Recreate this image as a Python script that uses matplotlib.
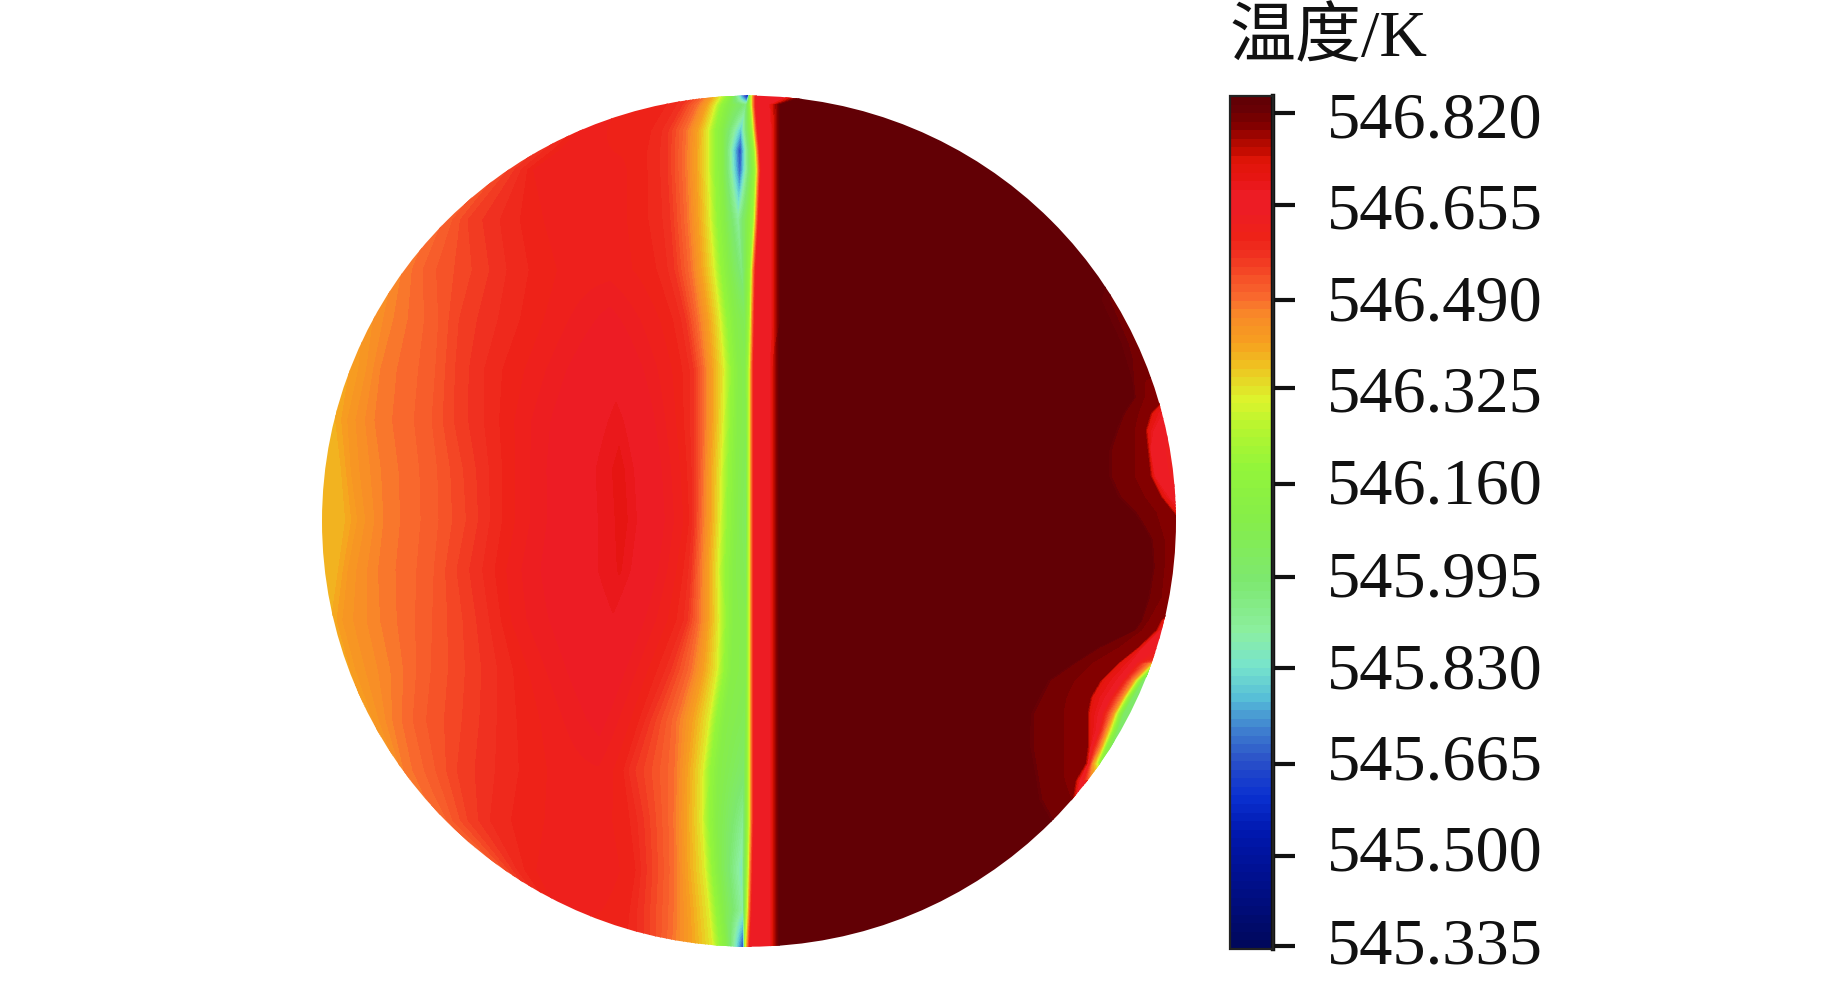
import matplotlib

matplotlib.use("Agg")
import matplotlib.pyplot as plt
import numpy as np
from matplotlib.colors import LinearSegmentedColormap
from matplotlib.patches import Ellipse
from matplotlib.transforms import ScaledTranslation

# colour scale
CMAP_T = [545.33, 545.45, 545.54, 545.60, 545.665, 545.72, 545.775, 545.835, 545.895, 545.985,
          546.10, 546.19, 546.255, 546.31, 546.37, 546.41, 546.46, 546.49, 546.535, 546.57,
          546.60, 546.645, 546.68, 546.70, 546.735, 546.755, 546.775, 546.79, 546.81, 546.825, 546.85]
CMAP_C = ["#00085a", "#000f8c", "#0018b0", "#0a30d0", "#2a50c8", "#3f80cf", "#55bcd8", "#78e4cc", "#8cefa0", "#7de870",
          "#86ee48", "#93f53a", "#b5f530", "#dcf42c", "#f0c020", "#f6a01f", "#f98a28", "#f96a2e", "#f54a26", "#f03020",
          "#ee2218", "#ed1c24", "#ed1c24", "#e81515", "#e01508", "#c00a00", "#a80800", "#8b0000", "#7a0000", "#6a0005", "#600005"]
TICK_LABELS = ["546.820", "546.655", "546.490", "546.325", "546.160", "545.995", "545.830", "545.665", "545.500", "545.335"]
# the ticks in the reference are not quite evenly spaced
TICK_POS = [546.820, 546.655, 546.486, 546.329, 546.158, 545.993, 545.831, 545.660, 545.495, 545.335]
LABEL_SHIFT = [-1.6, -0.6, 2.4, -0.6, 3.4, 3.4, 2.4, 7.4, 8.4, 5.4]

# isotherm positions across the disc, one value per row
ROW_Y = [95, 105, 130, 150, 170, 220, 270, 320, 370, 420, 470, 520, 570, 620, 670, 720, 770, 820, 870, 910, 950]
X_37 = [520, 500, 470, 440, 420, 370, 350, 338, 332, 330, 337, 340, 334, 326, 340, 360, 380, 430, 470, 500, 520]
X_41 = [540, 520, 490, 465, 440, 395, 380, 367, 362, 350, 353, 360, 350, 345, 358, 375, 395, 440, 480, 510, 530]
X_45 = [560, 540, 510, 490, 465, 425, 405, 397, 383, 378, 385, 387, 382, 385, 395, 395, 405, 430, 490, 520, 540]
X_49 = [580, 560, 530, 510, 490, 450, 430, 435, 432, 428, 433, 434, 430, 427, 425, 420, 432, 450, 500, 530, 550]
X_535 = [600, 580, 550, 530, 510, 470, 477, 462, 458, 457, 467, 470, 460, 467, 470, 467, 460, 470, 510, 540, 560]
X_57 = [615, 600, 570, 550, 525, 510, 517, 510, 493, 493, 497, 497, 490, 497, 507, 507, 507, 497, 520, 550, 570]
X_60 = [630, 615, 585, 565, 537, 557, 573, 557, 537, 523, 523, 523, 513, 517, 537, 553, 563, 563, 543, 560, 580]
PEAK_X = [640, 635, 625, 622, 620, 610, 610, 610, 612, 618, 620, 623, 620, 612, 605, 600, 598, 595, 595, 590, 585]
PEAK_T = [546.585, 546.59, 546.60, 546.605, 546.61, 546.615, 546.615, 546.645, 546.67, 546.69, 546.705, 546.705,
          546.70, 546.68, 546.665, 546.645, 546.62, 546.615, 546.62, 546.61, 546.59]
R_60 = [670, 660, 645, 640, 640, 640, 650, 668, 678, 680, 684, 687, 680, 672, 652, 635, 620, 625, 632, 625, 620]
R_57 = [690, 680, 666, 665, 665, 668, 672, 684, 692, 692, 693, 693, 690, 686, 668, 647, 630, 640, 643, 640, 640]
R_49 = [704, 696, 685, 684, 684, 686, 690, 697, 703, 703, 702, 701, 699, 698, 690, 675, 673, 672, 673, 672, 670]
R_41 = [712, 706, 697, 696, 696, 698, 701, 708, 712, 712, 710, 710, 708, 708, 703, 692, 687, 686, 687, 690, 692]
R_32 = [720, 714, 707, 707, 707, 709, 713, 719, 723, 722, 720, 719, 717, 718, 716, 708, 702, 701, 704, 708, 712]
R_20 = [726, 720, 714, 714, 714, 716, 720, 726, 730, 729, 727, 726, 724, 725, 723, 715, 709, 708, 711, 715, 719]
R_10 = [732, 727, 722, 722, 722, 724, 728, 734, 738, 737, 736, 735, 733, 733, 731, 724, 718, 716, 718, 722, 726]
VALLEY_X = [748, 746, 741, 740, 740, 738, 742, 745, 745, 746, 746, 746, 746, 746, 746, 745, 744, 743, 742, 743, 744]
VALLEY_T = [545.5, 545.95, 545.78, 545.65, 545.68, 545.9, 545.95, 546.05, 546.08, 546.08, 546.05, 546.03, 546.05,
            546.08, 546.08, 546.05, 546.0, 545.92, 545.85, 545.88, 545.6]
THIN_20 = [750, 750, 752, 754, 755, 753, 750, 749, 748, 748, 748, 748, 748, 748, 748, 748, 748, 748, 747, 746, 744]
THIN_32 = [752, 752, 754, 756, 757, 755, 752, 751, 750, 750, 750, 750, 750, 750, 750, 750, 750, 750, 749, 748, 746]
THIN_50 = [754, 754, 756, 758, 759, 757, 754, 753, 752, 752, 752, 752, 752, 752, 752, 752, 752, 752, 751, 750, 748]
THIN_67 = [757, 757, 759, 761, 762, 760, 757, 756, 755, 755, 755, 755, 755, 755, 755, 755, 755, 755, 754, 753, 751]
PLATEAU = [790, 769, 771, 771, 771, 771, 771, 771, 770, 770, 770, 770, 770, 770, 770, 770, 770, 770, 770, 770, 770]
SHOULDER = [800, 774, 775, 775, 775, 775, 775, 775, 774, 774, 774, 774, 774, 774, 774, 774, 774, 774, 774, 774, 774]
CORE = [812, 782, 781, 781, 781, 781, 781, 781, 780, 780, 780, 780, 780, 780, 780, 780, 780, 780, 780, 780, 780]

# cool patches on the right rim
RIGHT_Y = [270, 285, 300, 343, 360, 380, 397, 413, 430, 450, 477, 497, 513, 523, 540, 567, 597, 620, 630, 647, 663, 680,
           697, 713, 730, 747, 763, 780, 800, 830, 860]
RIM_85 = [1200, 1105, 1100, 1120, 1125, 1131, 1133, 1122, 1115, 1108, 1108, 1117, 1133, 1140, 1150, 1152, 1147, 1140,
          1133, 1097, 1072, 1047, 1038, 1030, 1029, 1029, 1032, 1035, 1038, 1055, 1200]
RIM_795 = [1200, 1200, 1200, 1200, 1200, 1144, 1143, 1137, 1133, 1133, 1133, 1143, 1155, 1158, 1163, 1163, 1160, 1147,
           1140, 1117, 1090, 1073, 1065, 1062, 1062, 1062, 1062, 1063, 1070, 1085, 1200]
RIM_75 = [1200, 1200, 1200, 1200, 1200, 1200, 1165, 1150, 1145, 1147, 1150, 1160, 1173, 1180, 1195, 1195, 1190, 1160,
          1155, 1137, 1117, 1100, 1090, 1087, 1087, 1087, 1085, 1075, 1072, 1090, 1200]
RIM_69 = [1205, 1205, 1205, 1205, 1205, 1205, 1175, 1165, 1155, 1150, 1155, 1170, 1185, 1195, 1200, 1200, 1195, 1170,
          1160, 1143, 1133, 1120, 1108, 1100, 1097, 1090, 1087, 1080, 1075, 1095, 1205]
RIM_45 = [1250, 1250, 1250, 1250, 1250, 1250, 1250, 1250, 1250, 1250, 1250, 1250, 1250, 1250, 1250, 1250, 1250, 1250,
          1250, 1250, 1150, 1133, 1122, 1113, 1106, 1100, 1092, 1090, 1250, 1250, 1250]
RIM_32 = [1260, 1260, 1260, 1260, 1260, 1260, 1260, 1260, 1260, 1260, 1260, 1260, 1260, 1260, 1260, 1260, 1260, 1260,
          1260, 1260, 1153, 1136, 1125, 1116, 1110, 1103, 1096, 1100, 1260, 1260, 1260]
RIM_15 = [1270, 1270, 1270, 1270, 1270, 1270, 1270, 1270, 1270, 1270, 1270, 1270, 1270, 1270, 1270, 1270, 1270, 1270,
          1270, 1270, 1157, 1140, 1129, 1120, 1114, 1106, 1100, 1120, 1270, 1270, 1270]
RIM_00 = [1280, 1280, 1280, 1280, 1280, 1280, 1280, 1280, 1280, 1280, 1280, 1280, 1280, 1280, 1280, 1280, 1280, 1280,
          1280, 1280, 1162, 1143, 1133, 1124, 1118, 1113, 1115, 1140, 1280, 1280, 1280]

main_x = np.array([X_37, X_41, X_45, X_49, X_535, X_57, X_60, PEAK_X, R_60, R_57, R_49, R_41, R_32, R_20, R_10,
                   VALLEY_X, THIN_20, THIN_32, THIN_50, THIN_67, PLATEAU, SHOULDER, CORE], dtype=float)
main_t = np.array([546.38, 546.43, 546.475, 546.51, 546.55, 546.585, 546.615, 0, 546.60, 546.57, 546.49, 546.41,
                   546.32, 546.20, 546.10, 0, 546.20, 546.32, 546.50, 546.67, 546.67, 546.75, 546.85])
# each rim isotherm is a step: the band behind it keeps one flat colour
rim_x = np.array([RIM_85, np.array(RIM_85) + 1.5, RIM_795, np.array(RIM_795) + 1.5, RIM_75, np.array(RIM_75) + 2.5, RIM_69,
                  RIM_45, RIM_32, RIM_15, RIM_00], dtype=float)
rim_t = np.array([546.85, 546.82, 546.815, 546.80, 546.79, 546.72, 546.67, 546.45, 546.32, 546.15, 546.0])

xs = np.arange(315, 1183, 1.0)
ys = np.arange(90, 953, 1.0)
temp = np.zeros((len(ys), len(xs)))
for i, y in enumerate(ys):
    nodes = np.array([np.interp(y, ROW_Y, c) for c in main_x])
    t = main_t.copy()
    t[7] = np.interp(y, ROW_Y, PEAK_T)
    t[15] = np.interp(y, ROW_Y, VALLEY_T)
    row = np.interp(xs, np.maximum.accumulate(nodes), t)
    rim_nodes = np.array([np.interp(y, RIGHT_Y, c) for c in rim_x])
    temp[i] = np.minimum(row, np.interp(xs, np.maximum.accumulate(rim_nodes), rim_t))
temp = np.clip(temp, 545.34, 546.848)

cmap = LinearSegmentedColormap.from_list(
    "temp", [((t - CMAP_T[0]) / (CMAP_T[-1] - CMAP_T[0]), c) for t, c in zip(CMAP_T, CMAP_C)], N=512
)
levels = np.linspace(CMAP_T[0], CMAP_T[-1], 101)

fig = plt.figure(figsize=(18.43, 9.82), dpi=100)
ax = fig.add_axes([0, 0, 1, 1])
ax.set_xlim(0, 1843)
ax.set_ylim(982, 0)
ax.axis("off")
cf = ax.contourf(xs, ys, temp, levels=levels, cmap=cmap, vmin=CMAP_T[0], vmax=CMAP_T[-1], antialiased=False)
disc = Ellipse((749, 521.2), 854, 851, transform=ax.transData, fc="none", ec="none")
ax.add_patch(disc)
cf.set_clip_path(disc)

cax = fig.add_axes([1230 / 1843, 1 - 949 / 982, 43 / 1843, 853 / 982])
cbar = fig.colorbar(cf, cax=cax, ticks=TICK_POS)
cbar.ax.set_ylim(545.33, 546.85)
cbar.outline.set_edgecolor("#222222")
cbar.outline.set_linewidth(1.6)
cax.axvline(cax.get_xlim()[1], color="#111111", lw=3.2, clip_on=False)
cax.set_yticks(TICK_POS)
cax.set_yticklabels(TICK_LABELS, family="Liberation Serif", fontsize=47.8, color="#111111")
cax.tick_params(axis="y", which="major", direction="out", length=16, width=3, color="#111111", pad=23)
cax.minorticks_off()
for lab, shift in zip(cax.get_yticklabels(), LABEL_SHIFT):
    lab.set_transform(lab.get_transform() + ScaledTranslation(0, shift / 100, fig.dpi_scale_trans))

fig.text(1229 / 1843, 1 - 56 / 982, "温度/K", fontsize=47.5, color="#111111", va="baseline",
         family=["Liberation Serif", "Noto Sans CJK SC"])

fig.savefig("out.png", dpi=100)
